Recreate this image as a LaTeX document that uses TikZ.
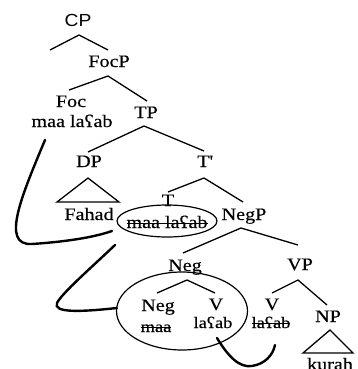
\documentclass[tikz,border=0pt]{standalone}
\usepackage{fontspec}
\setmainfont{Liberation Serif}[FakeStretch=1.15, FakeBold=0.4]
\newfontfamily\labsans{Liberation Sans}[FakeStretch=1.1]
\usetikzlibrary{shapes.geometric}
% struck-through text: a rule laid across the word
\newsavebox\strikebox
\newcommand{\struck}[1]{\sbox\strikebox{#1}\rlap{\rule[4.5pt]{\wd\strikebox}{0.9pt}}\usebox\strikebox}
\begin{document}
\begin{tikzpicture}[x=1pt,y=-1pt,
  every node/.style={inner sep=0pt, anchor=base, font=\fontsize{17.5}{20}\selectfont},
  small/.style={font=\fontsize{16}{18}\selectfont},
  branch/.style={line width=1.3pt},
  ring/.style={ellipse, draw, line width=1.2pt, anchor=center, inner sep=0pt},
  move/.style={line width=2.4pt, line cap=round}]
\useasboundingbox (0,0) rectangle (357,369);

% labels
\node (cp) at (78,27) {\labsans CP};
\node (focp) at (109,67) {FocP};
\node (foc) at (71,107) {Foc};
\node (foclex) at (72,127) {maa laʕab};
\node (tp) at (146,118) {TP};
\node (dp) at (89,167) {DP};
\node (tbar) at (205,167) {T\textquotesingle};
\node (fahad) at (89,220) {Fahad};
\node (t) at (168,206) {T};
\node[ring, minimum width=100, minimum height=32] (e1) at (167,221) {};
\node (tlex) at (167,228) {\struck{maa laʕab}};
\node (negp) at (244,220) {NegP};
\node (neg) at (185,271) {Neg};
\node (vp) at (300,270) {VP};
\node[ring, minimum width=131, minimum height=78] (e2) at (182,311) {};
\node (neghead) at (158,311) {Neg};
\node[small] (neglex) at (156,332) {\struck{maa}};
\node (v1) at (216,310) {V};
\node[small] (v1lex) at (213,328) {laʕab};
\node (v2) at (272,310) {V};
\node[small] (v2lex) at (271,328) {\struck{laʕab}};
\node (np) at (328,322) {NP};
\node (kurah) at (330,370) {kurah};

% branch points
\coordinate (cpA) at (79,35);   \coordinate (cpL) at (50,50);   \coordinate (cpR) at (108,50);
\coordinate (focpA) at (108,76); \coordinate (focpL) at (69,90); \coordinate (focpR) at (147,101);
\coordinate (tpA) at (144,126);  \coordinate (tpL) at (88,152);  \coordinate (tpR) at (204,151);
\coordinate (dpA) at (88,178);   \coordinate (dpL) at (57,202);  \coordinate (dpR) at (119,202);
\coordinate (tbA) at (204,178);  \coordinate (tbL) at (168,192); \coordinate (tbR) at (243,202);
\coordinate (negpA) at (241,228); \coordinate (negpL) at (183,253); \coordinate (negpR) at (298,245);
\coordinate (negA) at (187,280); \coordinate (negL) at (157,293); \coordinate (negR) at (215,293);
\coordinate (vpA) at (298,280);  \coordinate (vpL) at (272,293); \coordinate (vpR) at (327,305);
\coordinate (npA) at (330,330);  \coordinate (npL) at (303,353); \coordinate (npR) at (353,353);

% tree branches
\draw[branch] (cpL) -- (cpA) -- (cpR);
\draw[branch] (focpL) -- (focpA) -- (focpR);
\draw[branch] (tpL) -- (tpA) -- (tpR);
\draw[branch] (dpA) -- (dpL) -- (dpR) -- cycle;
\draw[branch] (tbL) -- (tbA) -- (tbR);
\draw[branch] (negpL) -- (negpA) -- (negpR);
\draw[branch] (negL) -- (negA) -- (negR);
\draw[branch] (vpL) -- (vpA) -- (vpR);
\draw[branch] (npA) -- (npL) -- (npR) -- cycle;

% movement paths
\coordinate (m1s) at (45,140);  \coordinate (m1e) at (112,231);
\coordinate (m2s) at (115,245); \coordinate (m2e) at (117,308);
\coordinate (m3s) at (217,338); \coordinate (m3e) at (275,345);
\draw[move] (m1s) .. controls (22,195) and (0,246) .. (32,244)
            .. controls (62,242) and (92,238) .. (m1e);
\draw[move] (m2s) .. controls (92,267) and (62,293) .. (57,303)
            .. controls (53,313) and (80,312) .. (m2e);
\draw[move] (m3s) .. controls (228,356) and (239,368) .. (252,366)
            .. controls (265,364) and (273,355) .. (m3e);
\end{tikzpicture}
\end{document}
